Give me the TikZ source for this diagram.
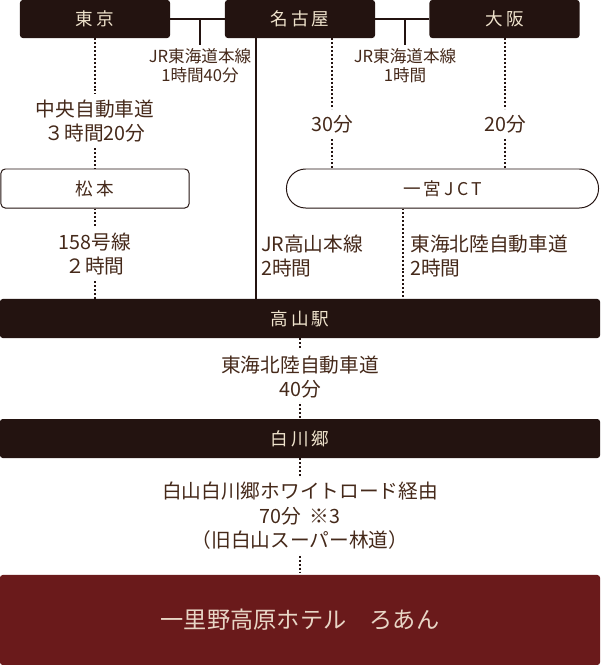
\documentclass[tikz,border=0pt]{standalone}
\usepackage{fontspec}
\setmainfont{Noto Sans CJK JP}
\newfontfamily\boxfont[LetterSpace=18]{Noto Sans CJK JP}
\usetikzlibrary{positioning}
\definecolor{darkbox}{HTML}{231310}
\definecolor{hotelred}{HTML}{6A1A1B}
\definecolor{labeltext}{HTML}{45291A}
\definecolor{boxtext}{HTML}{EFE3CC}
\definecolor{hoteltext}{HTML}{E8D6C6}

\begin{document}
\begin{tikzpicture}[
      x=0.025cm, y=-0.025cm,
      city/.style={rectangle, fill=darkbox, text=boxtext, rounded corners=2pt,
      minimum width=3.75cm, minimum height=0.95cm, inner sep=0pt,
      font={\boxfont\fontsize{12.5}{14}\selectfont}},
      stopbox/.style={rectangle, draw=darkbox, line width=0.7pt, fill=white,
      text=labeltext, rounded corners=3pt, minimum width=4.7cm,
      minimum height=0.975cm, inner sep=0pt,
      font={\boxfont\fontsize{12.5}{14}\selectfont}},
      jctbox/.style={stopbox, rounded corners=0.48cm, minimum width=7.8cm},
      bar/.style={city, minimum width=15cm, minimum height=0.975cm},
      hotel/.style={rectangle, fill=hotelred, text=hoteltext, rounded corners=2pt,
      minimum width=15cm, minimum height=2.25cm, inner sep=0pt,
      font=\fontsize{16.5}{19}\selectfont},
      lab/.style={text=labeltext, align=center, inner sep=4pt,
      font=\fontsize{14}{17.5}\selectfont},
      jrlab/.style={text=labeltext, align=center, inner sep=2pt,
      font=\fontsize{11.8}{14}\selectfont},
      link/.style={draw=darkbox, line width=0.75pt},
      dotline/.style={draw=darkbox, line width=1.4pt, dash pattern=on 1.4pt off 1.4pt}
    ]
    \useasboundingbox (0, 0) rectangle (600, 665);

    % Departure cities
    \node[city] (tokyo)  at (95,    19) {東京};
    \node[city] (nagoya) at (300,   19) {名古屋};
    \node[city] (osaka)  at (504.5, 19) {大阪};

    % JR Tokaido line
    \node[jrlab, anchor=north] (jr1) at (200, 45) {JR東海道本線\\1時間40分};
    \node[jrlab, anchor=north] (jr2) at (405, 45) {JR東海道本線\\1時間};
    \draw[link] (tokyo) -- (nagoya);
    \draw[link] (nagoya) -- (osaka);
    \draw[link] (jr1.north |- tokyo.east) -- (jr1.north);
    \draw[link] (jr2.north |- nagoya.east) -- (jr2.north);

    % Interchanges
    \node[lab] (chuo) at (95,  121) {中央自動車道\\３時間20分};
    \node[lab] (m30)  at (332, 124) {30分};
    \node[lab] (m20)  at (505, 124) {20分};
    \node[stopbox] (matsumoto)  at (95,    188.5) {松本};
    \node[jctbox]  (ichinomiya) at (442.5, 188.5) {一宮JCT};

    \draw[dotline] (tokyo.south) -- (chuo.north);
    \draw[dotline] (chuo.south) -- (chuo.south |- matsumoto.north);
    \draw[dotline] (m30.north |- nagoya.south) -- (m30.north);
    \draw[dotline] (m30.south) -- (m30.south |- ichinomiya.north);
    \draw[dotline] (m20.north |- osaka.south) -- (m20.north);
    \draw[dotline] (m20.south) -- (m20.south |- ichinomiya.north);

    % Routes to Takayama
    \node[lab] (r158) at (95, 254) {158号線\\２時間};
    \node[lab, anchor=west, align=left, inner sep=3.5pt] (jrtk) at (256, 256)
    {JR高山本線\\2時間};
    \node[lab, anchor=west, align=left, inner sep=5pt] (tohoku) at (403, 256)
    {東海北陸自動車道\\2時間};
    \node[bar] (takayama) at (300, 318.5) {高山駅};

    \draw[dotline] (matsumoto.south -| r158.north) -- (r158.north);
    \draw[dotline] (r158.south) -- (r158.south |- takayama.north);
    \draw[link] (jrtk.west |- nagoya.south) -- (jrtk.west |- takayama.north);
    \draw[dotline] (tohoku.west |- ichinomiya.south)
    -- (tohoku.west |- takayama.north);

    % Takayama -> Shirakawa-go -> hotel
    \node[lab] (tk40) at (300, 377) {東海北陸自動車道\\40分};
    \node[bar] (shirakawa) at (300, 438.5) {白川郷};
    \node[lab] (wroad) at (300, 516)
    {白山白川郷ホワイトロード経由\\70分\ \ ※3\\（旧白山スーパー林道）};
    \node[hotel] (roan) at (300, 620) {一里野高原ホテル　ろあん};

    \draw[dotline] (takayama.south) -- (tk40.north);
    \draw[dotline] (tk40.south) -- (shirakawa.north);
    \draw[dotline] (shirakawa.south) -- (wroad.north);
    \draw[dotline] (wroad.south) -- (roan.north);

  \end{tikzpicture}
\end{document}
